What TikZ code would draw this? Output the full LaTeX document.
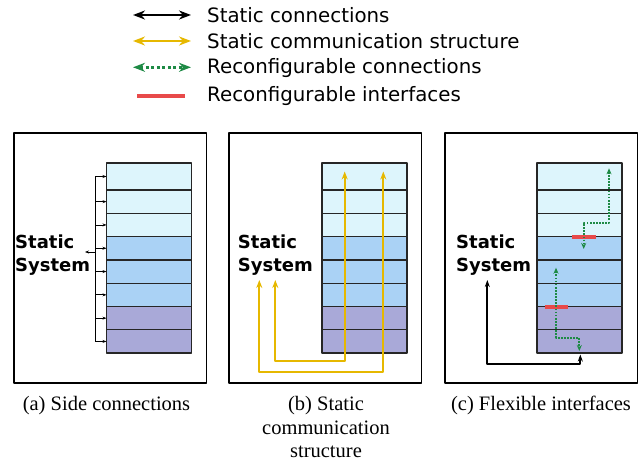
\documentclass[tikz,border=0pt]{standalone}
\usepackage{fontspec}
\setmainfont{Liberation Serif}
\setsansfont{DejaVu Sans}
\usetikzlibrary{arrows.meta}

\definecolor{rowcyan}{HTML}{DDF5FC}
\definecolor{rowblue}{HTML}{AAD2F5}
\definecolor{rowlila}{HTML}{A9A9D8}
\definecolor{commyellow}{HTML}{E6B800}
\definecolor{reconfgreen}{HTML}{1E8A45}
\definecolor{ifacered}{HTML}{E84A4A}

\tikzset{
  panel/.style={draw=black, line width=1.6pt, minimum width=192.5pt, minimum height=250pt, anchor=north west, outer sep=0pt},
  slot/.style={draw=black!85, line width=1.3pt, minimum width=85pt, anchor=north west, outer sep=0pt, inner sep=0pt},
  sysname/.style={font=\fontsize{18}{23.4}\selectfont\sffamily\bfseries, inner sep=0pt, anchor=base west},
  legtext/.style={font=\fontsize{19.8}{24}\selectfont\sffamily, inner sep=0pt, anchor=base west},
  caption/.style={font=\fontsize{20.5}{23.6}\selectfont, inner sep=0pt, anchor=base},
  sidearrow/.style={draw=black, line width=0.9pt, -{Stealth[length=4pt, width=3pt]}},
  staticarrow/.style={draw=black, line width=1.7pt, {Stealth[length=7pt, width=5pt]}-{Stealth[length=7pt, width=5pt]}},
  commarrow/.style={draw=commyellow, line width=1.8pt, {Stealth[length=8pt, width=6pt]}-{Stealth[length=8pt, width=6pt]}},
  reconfarrow/.style={draw=reconfgreen, line width=1.7pt, dash pattern=on 1.7pt off 1.4pt, {Stealth[length=6pt, width=5pt]}-{Stealth[length=6pt, width=5pt]}},
  iface/.style={draw=ifacered, line width=4pt},
}

\begin{document}
\begin{tikzpicture}[x=1pt, y=-1pt, line join=round]
  \useasboundingbox (0,0) rectangle (644,462);

  \coordinate (legL1) at (133,15);   \coordinate (legR1) at (191,15);
  \coordinate (legL2) at (133,41);   \coordinate (legR2) at (191,41);
  \coordinate (legL3) at (133,67.3); \coordinate (legR3) at (191,67.3);
  \coordinate (legL4) at (137,96);   \coordinate (legR4) at (185,96);
  \draw[staticarrow, line width=2.8pt, {Stealth[length=12pt, width=9pt]}-{Stealth[length=12pt, width=9pt]}] (legL1) -- (legR1);
  \draw[commarrow, line width=2.8pt, {Stealth[length=12pt, width=9pt]}-{Stealth[length=12pt, width=9pt]}] (legL2) -- (legR2);
  \draw[reconfarrow, line width=2.8pt, dash pattern=on 3pt off 2.5pt, {Stealth[length=12pt, width=9pt]}-{Stealth[length=12pt, width=9pt]}] (legL3) -- (legR3);
  \draw[iface] (legL4) -- (legR4);
  \node[legtext] (legT1) at (207,22.5) {Static connections};
  \node[legtext] (legT2) at (207,48.5) {Static communication structure};
  \node[legtext] (legT3) at (207,74) {Reconfigurable connections};
  \node[legtext] (legT4) at (207,101.5) {Reconfigurable interfaces};

  \node[panel] (boxA) at (14,133) {};
  \node[panel] (boxB) at (229,133) {};
  \node[panel] (boxC) at (445,133) {};

  \foreach \p/\x in {A/106.5, B/322, C/537}
    \foreach \k/\top/\h/\col in {1/163/27/rowcyan, 2/190/23.3/rowcyan, 3/213.3/23.3/rowcyan,
        4/236.6/23.3/rowblue, 5/259.9/23.3/rowblue, 6/283.2/23.3/rowblue,
        7/306.5/23.3/rowlila, 8/329.8/23.3/rowlila}
      \node[slot, fill=\col, minimum height=\h pt] (row\p\k) at (\x,\top) {};

  \node[sysname] (sysA) at (15,248.3) {\begin{tabular}[t]{@{}l@{}}Static\\System\end{tabular}};
  \node[sysname] (sysB) at (237.7,248.3) {\begin{tabular}[t]{@{}l@{}}Static\\System\end{tabular}};
  \node[sysname] (sysC) at (456,248.3) {\begin{tabular}[t]{@{}l@{}}Static\\System\end{tabular}};

  \coordinate (busA) at (95,0);
  \coordinate (outA) at (85,252);
  \draw[black, line width=0.9pt] (rowA1.west -| busA) -- (rowA8.west -| busA);
  \foreach \k in {1,...,8}
    \draw[sidearrow] (rowA\k.west -| busA) -- (rowA\k.west);
  \draw[sidearrow] (outA -| busA) -- (outA);

  \coordinate (tipB1) at (344.7,171.5); \coordinate (footB1) at (275.3,280); \coordinate (lowB1) at (0,361);
  \coordinate (tipB2) at (383.3,171.5); \coordinate (footB2) at (259.3,280); \coordinate (lowB2) at (0,372.3);
  \draw[commarrow] (footB1) -- (footB1 |- lowB1) -| (tipB1);
  \draw[commarrow] (footB2) -- (footB2 |- lowB2) -| (tipB2);

  \coordinate (footC) at (487.3,280); \coordinate (lowC) at (0,364); \coordinate (portC) at (580.3,354.5);
  \draw[staticarrow] (footC) -- (footC |- lowC) -| (portC);

  \draw[iface] (545,306.5) -- (568.3,306.5);
  \draw[iface] (572.3,236.6) -- (595.7,236.6);
  \coordinate (gC1) at (556,267.7); \coordinate (kneeC1) at (0,337.7); \coordinate (gC1end) at (579.3,351);
  \coordinate (gC2) at (609,168.3); \coordinate (kneeC2) at (0,222.7); \coordinate (gC2end) at (583.7,249);
  \draw[reconfarrow] (gC1) -- (gC1 |- kneeC1) -| (gC1end);
  \draw[reconfarrow] (gC2) -- (gC2 |- kneeC2) -| (gC2end);

  \node[caption] (capA) at (106.5,410.5) {(a) Side connections};
  \node[caption] (capB) at (326,410.5) {\begin{tabular}[t]{@{}c@{}}(b) Static\\communication\\structure\end{tabular}};
  \node[caption] (capC) at (541,410.5) {(c) Flexible interfaces};
\end{tikzpicture}
\end{document}
